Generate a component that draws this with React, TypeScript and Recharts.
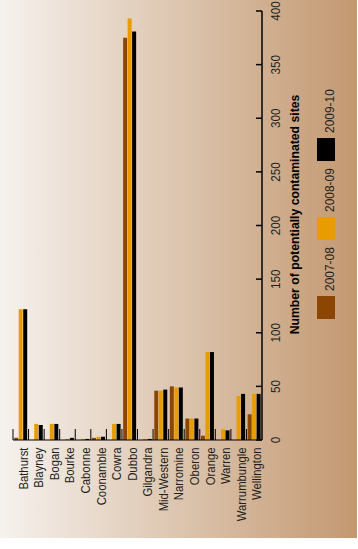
import React from "react";
import { Bar, BarChart, XAxis, YAxis } from "recharts";

const categories = [
  "Bathurst",
  "Blayney",
  "Bogan",
  "Bourke",
  "Cabonne",
  "Coonamble",
  "Cowra",
  "Dubbo",
  "Gilgandra",
  "Mid-Western",
  "Narromine",
  "Oberon",
  "Orange",
  "Warren",
  "Warrumbungle",
  "Wellington",
];
const sites2007 = [2, 0, 0, 0, 0, 2, 0, 375, 0, 46, 50, 20, 4, 0, 0, 24];
const sites2008 = [122, 15, 15, 1, 1, 3, 15, 393, 1, 46, 49, 20, 82, 10, 41, 43];
const sites2009 = [122, 14, 15, 2, 1, 3, 15, 381, 1, 47, 49, 20, 82, 9, 43, 43];
const valueTicks = [0, 50, 100, 150, 200, 250, 300, 350, 400];

const seriesNames = ["2007-08", "2008-09", "2009-10"];
const seriesKeys = ["y2007", "y2008", "y2009"];
const seriesColors = ["#8c4603", "#e89c00", "#000000"];

const data = categories.map((name, i) => ({
  name,
  y2007: sites2007[i],
  y2008: sites2008[i],
  y2009: sites2009[i],
}));

const W = 358;
const H = 549;
const PLOT_LEFT = 13;
const PLOT_RIGHT = 262;
const FONT = "'Liberation Sans Narrow', 'Liberation Sans', Arial, sans-serif";
const TEXT = "#231f20";

// ticks sit 6px + 2px margin away from the axis line
const TICK_OFFSET = 8;

// vertical, slightly condensed label
function upright(x: number, y: number, squeeze: number) {
  return `translate(${x},${y}) rotate(-90) scale(${squeeze},1)`;
}

function CategoryTick(props: any) {
  const { x, y, payload } = props;
  const band = (PLOT_RIGHT - PLOT_LEFT) / categories.length;
  const axisY = y - TICK_OFFSET;
  const edge = x - band / 2;
  return (
    <g>
      <line x1={edge} x2={edge} y1={axisY - 11} y2={axisY} stroke="#000" strokeWidth={1} />
      <text
        transform={upright(x + 7, axisY + 7.5, 0.87)}
        textAnchor="end"
        fontFamily={FONT}
        fontSize={13}
        fill={TEXT}
      >
        {payload.value}
      </text>
    </g>
  );
}

function ValueTick(props: any) {
  const { x, y, payload } = props;
  const axisX = x - TICK_OFFSET;
  return (
    <g>
      <line x1={axisX - 6} x2={axisX} y1={y} y2={y} stroke="#000" strokeWidth={1.5} />
      <text
        transform={upright(axisX + 18, y, 0.9)}
        textAnchor="middle"
        fontFamily={FONT}
        fontSize={13}
        fill={TEXT}
      >
        {payload.value}
      </text>
    </g>
  );
}

function Overlay() {
  return (
    <svg width={W} height={H} style={{ position: "absolute", left: 0, top: 0, pointerEvents: "none" }}>
      <text
        transform={upright(299, 214.5, 0.94)}
        textAnchor="middle"
        fontFamily={FONT}
        fontWeight="bold"
        fontSize={13}
        fill="#000"
      >
        Number of potentially contaminated sites
      </text>
      {seriesNames.map((name, i) => {
        const top = 296 - i * 79;
        return (
          <g key={name}>
            <rect x={317} y={top} width={18} height={23} fill={seriesColors[i]} />
            <text
              transform={upright(334, top - 5, 0.92)}
              textAnchor="start"
              fontFamily={FONT}
              fontSize={13}
              fill={TEXT}
            >
              {name}
            </text>
          </g>
        );
      })}
    </svg>
  );
}

export default function App() {
  return (
    <div style={{ position: "absolute", left: 0, top: 0, width: W, height: H, background: "#fff" }}>
      <div
        style={{
          position: "absolute",
          left: 0,
          top: 0,
          width: 357,
          height: 538,
          background: "linear-gradient(to right, #f6f2ee 0%, #c39870 100%)",
        }}
      />
      <div style={{ position: "absolute", left: 0, top: 0 }}>
        <BarChart
          width={W}
          height={H}
          data={data}
          margin={{ top: 11, right: 36, bottom: 49, left: 13 }}
          barCategoryGap={1.2}
          barGap={0.5}
        >
          <XAxis
            dataKey="name"
            height={60}
            interval={0}
            tickSize={6}
            tickMargin={2}
            tickLine={false}
            axisLine={{ stroke: "#000", strokeWidth: 1 }}
            tick={<CategoryTick />}
          />
          <YAxis
            orientation="right"
            width={60}
            domain={[0, 400]}
            ticks={valueTicks}
            interval={0}
            tickSize={6}
            tickMargin={2}
            tickLine={false}
            axisLine={{ stroke: "#000", strokeWidth: 1.5 }}
            tick={<ValueTick />}
          />
          {seriesKeys.map((key, i) => (
            <Bar key={key} dataKey={key} name={seriesNames[i]} fill={seriesColors[i]} isAnimationActive={false} />
          ))}
        </BarChart>
      </div>
      <Overlay />
    </div>
  );
}
